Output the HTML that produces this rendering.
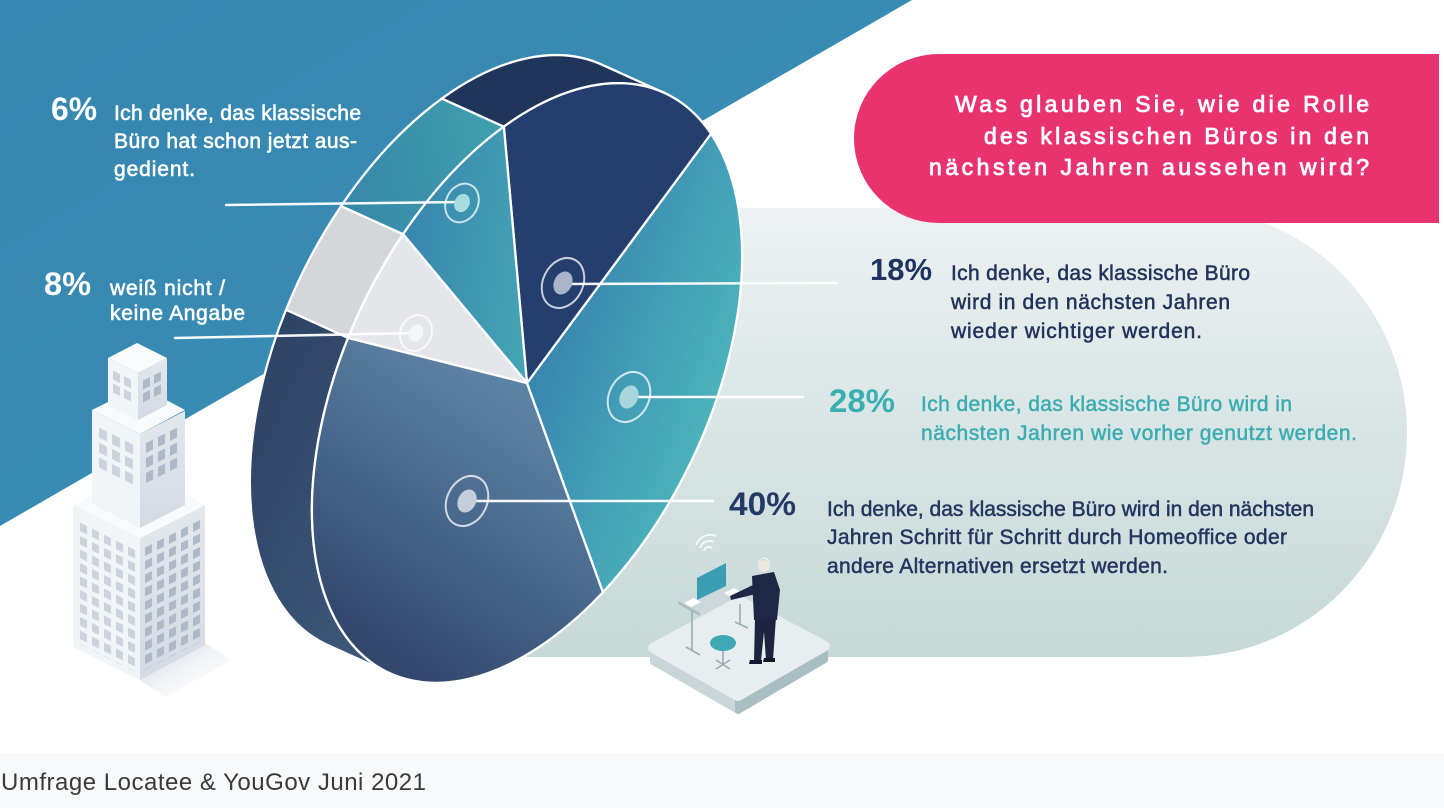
<!DOCTYPE html>
<html><head><meta charset="utf-8">
<style>html,body{margin:0;padding:0;background:#fff;width:1444px;height:808px;overflow:hidden}svg{display:block}</style>
</head><body>
<svg xmlns="http://www.w3.org/2000/svg" width="1444" height="808" viewBox="0 0 1444 808" font-family="'Liberation Sans', Arial, sans-serif">
<defs>
  <linearGradient id="bg" x1="0" y1="0" x2="1" y2="1"><stop offset="0" stop-color="#3586b0"/><stop offset="1" stop-color="#3c90b6"/></linearGradient>
  <linearGradient id="pale" x1="0" y1="0" x2="0" y2="1"><stop offset="0" stop-color="#edf1f2"/><stop offset="1" stop-color="#c5d9d7"/></linearGradient>
  <linearGradient id="g40" x1="0.55" y1="0.05" x2="0.42" y2="0.95"><stop offset="0" stop-color="#5d83a4"/><stop offset="0.5" stop-color="#47668b"/><stop offset="1" stop-color="#33466b"/></linearGradient>
  <linearGradient id="g28" x1="0" y1="0.6" x2="1" y2="0.35"><stop offset="0" stop-color="#3886af"/><stop offset="1" stop-color="#4db5bc"/></linearGradient>
  <linearGradient id="g6" x1="0" y1="0.7" x2="1" y2="0.3"><stop offset="0" stop-color="#3786ad"/><stop offset="1" stop-color="#4aafb8"/></linearGradient>
  <linearGradient id="r40" x1="0" y1="0" x2="1" y2="0"><stop offset="0" stop-color="#2e4365"/><stop offset="1" stop-color="#3f5b7c"/></linearGradient>
  <linearGradient id="r6" x1="0" y1="1" x2="1" y2="0"><stop offset="0" stop-color="#3686a8"/><stop offset="1" stop-color="#40a0ae"/></linearGradient>
  <linearGradient id="bR" x1="0" y1="0" x2="0" y2="1"><stop offset="0" stop-color="#e3e8ee"/><stop offset="1" stop-color="#d3dae3"/></linearGradient>
  <linearGradient id="shadow" x1="0" y1="0" x2="1" y2="1"><stop offset="0" stop-color="#c9cfd8"/><stop offset="1" stop-color="#ffffff" stop-opacity="0"/></linearGradient>
  <pattern id="wA" patternUnits="userSpaceOnUse" width="12" height="13.5"><rect width="7" height="8.5" fill="#cdd3dc"/></pattern>
  <pattern id="wB" patternUnits="userSpaceOnUse" width="12" height="13.5"><rect width="7" height="8.5" fill="#aeb8c6"/></pattern>
  <pattern id="wC" patternUnits="userSpaceOnUse" width="13" height="15"><rect width="8" height="10" fill="#cdd3dc"/></pattern>
  <pattern id="wD" patternUnits="userSpaceOnUse" width="12" height="15"><rect width="7" height="10" fill="#aeb8c6"/></pattern>
  <pattern id="wE" patternUnits="userSpaceOnUse" width="11" height="13"><rect width="7" height="9" fill="#cdd3dc"/></pattern>
  <pattern id="wF" patternUnits="userSpaceOnUse" width="11" height="13"><rect width="7" height="9" fill="#aeb8c6"/></pattern>
</defs>

<!-- backgrounds -->
<rect width="1444" height="808" fill="#ffffff"/>
<polygon points="0,0 912,0 0,526" fill="url(#bg)"/>
<path d="M520,208 H1185 A222,224.5 0 0 1 1185,657 H520 Z" fill="url(#pale)"/>
<path d="M939,54 H1439 V223 H939 A85,84.5 0 0 1 939,54 Z" fill="#e9336f"/>

<!-- title -->
<g fill="#ffffff" stroke="#ffffff" stroke-width="0.8" font-size="23">
  <text x="955" y="112" textLength="414" lengthAdjust="spacing">Was glauben Sie, wie die Rolle</text>
  <text x="984" y="144" textLength="385" lengthAdjust="spacing">des klassischen Büros in den</text>
  <text x="929" y="175" textLength="440" lengthAdjust="spacing">nächsten Jahren aussehen wird?</text>
</g>

<!-- building -->
<polygon points="205,643 232,660 165,697 140,680" fill="url(#shadow)"/>
<polygon points="73,505 140,538 140,680 73,647" fill="#f2f5f7"/>
<polygon points="140,538 205,505 205,645 140,680" fill="url(#bR)"/>
<polygon points="73,505 140,472 205,505 140,538" fill="#f8fafb"/>
<g transform="matrix(1,0.5,0,1,73,505)"><rect transform="translate(7,14)" width="60" height="122" fill="url(#wA)"/></g>
<g transform="matrix(1,-0.5,0,1,140,538)"><rect transform="translate(5,12)" width="60" height="122" fill="url(#wB)"/></g>
<polygon points="92,410 140,434 140,528 92,504" fill="#f2f5f7"/>
<polygon points="140,434 185,411 185,505 140,528" fill="url(#bR)"/>
<polygon points="92,410 140,386 185,410 140,434" fill="#f8fafb"/>
<g transform="matrix(1,0.5,0,1,92,410)"><rect transform="translate(7,14)" width="39" height="45" fill="url(#wC)"/></g>
<g transform="matrix(1,-0.5,0,1,140,434)"><rect transform="translate(6,12)" width="36" height="45" fill="url(#wD)"/></g>
<polygon points="108,358 138,373 138,420 108,405" fill="#f2f5f7"/>
<polygon points="138,373 167,358 167,405 138,420" fill="url(#bR)"/>
<polygon points="108,358 137,343 167,358 138,373" fill="#f9fbfc"/>
<g transform="matrix(1,0.5,0,1,108,358)"><rect transform="translate(5,10)" width="22" height="26" fill="url(#wE)"/></g>
<g transform="matrix(1,-0.5,0,1,138,373)"><rect transform="translate(5,10)" width="22" height="26" fill="url(#wF)"/></g>

<!-- pie -->
<g transform="translate(527 383) rotate(25.7) scale(182 321)" stroke="#ffffff" stroke-width="2.3" stroke-linejoin="round">
  <path vector-effect="non-scaling-stroke" fill="url(#r40)" d="M-0.374,1.005 A1,1 0 0,1 -1.3674,0.1199 L-0.9934,0.1149 A1,1 0 0,0 0,1 Z"/>
  <path vector-effect="non-scaling-stroke" fill="#d4d6da" d="M-1.3674,0.1199 A1,1 0 0,1 -1.3421,-0.2454 L-0.9681,-0.2504 A1,1 0 0,0 -0.9934,0.1149 Z"/>
  <path vector-effect="non-scaling-stroke" fill="url(#r6)" d="M-1.3421,-0.2454 A1,1 0 0,1 -1.0994,-0.6834 L-0.7254,-0.6884 A1,1 0 0,0 -0.9681,-0.2504 Z"/>
  <path vector-effect="non-scaling-stroke" fill="#1f365a" d="M-1.0994,-0.6834 A1,1 0 0,1 -0.374,-0.995 L0,-1 A1,1 0 0,0 -0.7254,-0.6884 Z"/>
  <path vector-effect="non-scaling-stroke" fill="url(#g40)" d="M0,0 L0.8746,0.4848 A1,1 0 0,1 -0.9934,0.1149 Z"/>
  <path vector-effect="non-scaling-stroke" fill="url(#g28)" d="M0,0 L0.3173,-0.9483 A1,1 0 0,1 0.8746,0.4848 Z"/>
  <path vector-effect="non-scaling-stroke" fill="#243f6d" d="M0,0 L-0.7254,-0.6884 A1,1 0 0,1 0.3173,-0.9483 Z"/>
  <path vector-effect="non-scaling-stroke" fill="#e5e6e9" d="M0,0 L-0.9934,0.1149 A1,1 0 0,1 -0.9681,-0.2504 Z"/>
  <path vector-effect="non-scaling-stroke" fill="url(#g6)" d="M0,0 L-0.9681,-0.2504 A1,1 0 0,1 -0.7254,-0.6884 Z"/>
</g>

<!-- connector lines -->
<g stroke="#ffffff" stroke-width="2.5" stroke-linecap="round" opacity="0.95">
  <line x1="226" y1="205" x2="462" y2="202"/>
  <line x1="175" y1="338" x2="415" y2="333"/>
  <line x1="564" y1="284" x2="837" y2="283"/>
  <line x1="629" y1="397" x2="803" y2="397"/>
  <line x1="469" y1="501" x2="713" y2="501"/>
</g>

<!-- rings -->
<g stroke="#ffffff" stroke-opacity="0.75" stroke-width="2">
  <g transform="translate(462,203) rotate(25.7)"><ellipse rx="16" ry="20" fill="none"/><ellipse rx="7.5" ry="9.5" fill="#a9dbe2" stroke="none"/></g>
  <g transform="translate(416,333) rotate(25.7)"><ellipse rx="15.5" ry="18.5" fill="none"/><ellipse rx="7" ry="9" fill="#f5f6f7" stroke="none"/></g>
  <g transform="translate(563,283) rotate(25.7)"><ellipse rx="20" ry="26" fill="none"/><ellipse rx="9" ry="12" fill="#a9b5cb" stroke="none"/></g>
  <g transform="translate(629,397) rotate(25.7)"><ellipse rx="20" ry="26" fill="none"/><ellipse rx="9" ry="12" fill="#a8d6dc" stroke="none"/></g>
  <g transform="translate(467,501) rotate(25.7)"><ellipse rx="20" ry="26" fill="none"/><ellipse rx="9" ry="12" fill="#c6cedb" stroke="none"/></g>
</g>

<!-- left labels -->
<g fill="#ffffff">
  <text x="51" y="120" font-size="32" font-weight="bold" textLength="46" lengthAdjust="spacingAndGlyphs">6%</text>
  <text x="44" y="295" font-size="32" font-weight="bold" textLength="47" lengthAdjust="spacingAndGlyphs">8%</text>
</g>
<g fill="#ffffff" stroke="#ffffff" stroke-width="0.6" font-size="21">
  <text x="114" y="120" textLength="247" lengthAdjust="spacing">Ich denke, das klassische</text>
  <text x="114" y="148" textLength="243" lengthAdjust="spacing">Büro hat schon jetzt aus-</text>
  <text x="114" y="176" textLength="81" lengthAdjust="spacing">gedient.</text>
  <text x="110" y="295" textLength="115" lengthAdjust="spacing">weiß nicht /</text>
  <text x="110" y="320" textLength="135" lengthAdjust="spacing">keine Angabe</text>
</g>

<!-- right labels -->
<text x="870" y="280" font-size="31" font-weight="bold" fill="#1f3461" textLength="62" lengthAdjust="spacingAndGlyphs">18%</text>
<g fill="#22335b" stroke="#22335b" stroke-width="0.5" font-size="21">
  <text x="951" y="280" textLength="299" lengthAdjust="spacing">Ich denke, das klassische Büro</text>
  <text x="951" y="309" textLength="279" lengthAdjust="spacing">wird in den nächsten Jahren</text>
  <text x="951" y="338" textLength="251" lengthAdjust="spacing">wieder wichtiger werden.</text>
</g>
<text x="829" y="412" font-size="32" font-weight="bold" fill="#3aaeb2" textLength="66" lengthAdjust="spacingAndGlyphs">28%</text>
<g fill="#3badb2" stroke="#3badb2" stroke-width="0.5" font-size="21">
  <text x="921" y="411" textLength="371" lengthAdjust="spacing">Ich denke, das klassische Büro wird in</text>
  <text x="921" y="440" textLength="436" lengthAdjust="spacing">nächsten Jahren wie vorher genutzt werden.</text>
</g>
<text x="729" y="515" font-size="32" font-weight="bold" fill="#233a66" textLength="67" lengthAdjust="spacingAndGlyphs">40%</text>
<g fill="#24365f" stroke="#24365f" stroke-width="0.5" font-size="21">
  <text x="827" y="516" textLength="487" lengthAdjust="spacing">Ich denke, das klassische Büro wird in den nächsten</text>
  <text x="827" y="544" textLength="460" lengthAdjust="spacing">Jahren Schritt für Schritt durch Homeoffice oder</text>
  <text x="827" y="573" textLength="341" lengthAdjust="spacing">andere Alternativen ersetzt werden.</text>
</g>

<!-- desk / person illustration -->
<polygon points="653,648 738,696 738,711 653,662" fill="#c9d6d9" stroke="#c9d6d9" stroke-width="6" stroke-linejoin="round"/>
<polygon points="738,696 825,646 825,660 738,711" fill="#a9bec3" stroke="#a9bec3" stroke-width="6" stroke-linejoin="round"/>
<polygon points="653,648 740,601 825,646 738,696" fill="#e8eef0" stroke="#e8eef0" stroke-width="10" stroke-linejoin="round"/>
<g stroke="#98adb5" stroke-width="1.6" fill="none">
  <line x1="692" y1="610" x2="692" y2="650"/><line x1="686" y1="647" x2="700" y2="655"/>
  <line x1="740" y1="604" x2="740" y2="624"/><line x1="735" y1="622" x2="748" y2="628"/>
  <line x1="723" y1="648" x2="723" y2="664"/><line x1="716" y1="660" x2="730" y2="669"/><line x1="730" y1="660" x2="716" y2="669"/>
</g>
<polygon points="678,601 722,580 743,591 700,613" fill="#cbd8dc"/>
<polygon points="678,601 700,613 700,616 678,604" fill="#a9bcc3"/>
<polygon points="697,578 726,563 726,586 697,600" fill="#3a9db4"/>
<polygon points="684,603 694,598 701,602 691,607" fill="#ffffff"/>
<polygon points="724,593 734,588 741,592 731,597" fill="#ffffff"/>
<ellipse cx="723" cy="643" rx="13" ry="8" fill="#3fa8b5"/>
<g stroke="#ffffff" stroke-width="1.8" fill="none" opacity="0.85">
  <path d="M704,551 A5,5 0 0 1 712,548"/><path d="M700,548 A10,10 0 0 1 714,542"/><path d="M696,545 A15,15 0 0 1 716,536"/>
</g>
<polygon points="755,618 776,617 773,660 766,660 764,632 761,661 754,661" fill="#1c2440"/>
<polygon points="752,576 774,572 780,590 777,620 754,620" fill="#1f2746"/>
<polygon points="753,585 730,596 731,600 756,594" fill="#1f2746"/>
<polygon points="750,660 762,660 762,664 749,664" fill="#12182c"/>
<polygon points="764,658 775,658 775,662 763,662" fill="#12182c"/>
<circle cx="764" cy="566" r="6" fill="#eee7dc"/>
<path d="M758,565 A6,6 0 0 1 770,563 L768,561 A5,5 0 0 0 759,562 Z" fill="#ffffff"/>

<!-- footer -->
<rect x="0" y="753" width="1444" height="55" fill="#f8f9fa"/>
<text x="1" y="790" font-size="24" fill="#3a3a3a" textLength="425" lengthAdjust="spacing">Umfrage Locatee &amp; YouGov Juni 2021</text>
</svg>
</body></html>
